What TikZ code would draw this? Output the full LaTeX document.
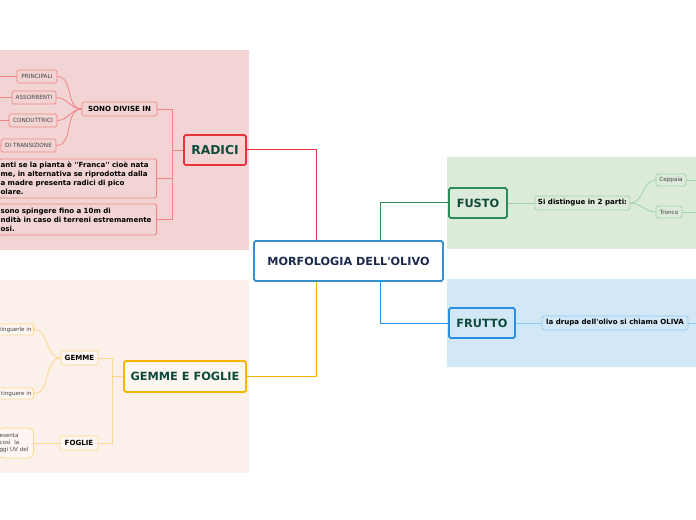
\documentclass[tikz,border=0pt]{standalone}
\usepackage{fontspec}
\setmainfont{DejaVu Sans}[Ligatures=TeXOff]
\definecolor{radbg}{HTML}{F2D4D4}
\definecolor{radline}{HTML}{F08585}
\definecolor{radmain}{HTML}{E8333C}
\definecolor{gembg}{HTML}{FCF0EB}
\definecolor{gemline}{HTML}{FDD88A}
\definecolor{gemmain}{HTML}{F7B500}
\definecolor{fusbg}{HTML}{DCEBD9}
\definecolor{fusline}{HTML}{9ED3A8}
\definecolor{fusmain}{HTML}{2E8B57}
\definecolor{frubg}{HTML}{D3E8F7}
\definecolor{fruline}{HTML}{8DCBF0}
\definecolor{frumain}{HTML}{2A8FE0}
\definecolor{cenborder}{HTML}{3A8FD0}
\definecolor{centext}{HTML}{1B2B4B}
\definecolor{maintext}{HTML}{0E4A3A}
\definecolor{leaftext}{HTML}{444444}
\begin{document}
\begin{tikzpicture}[x=0.75pt,y=-0.75pt,
  box/.style={draw, rounded corners=1.2pt, inner sep=0pt, align=center},
  mainbox/.style={box, line width=1.4pt, text=maintext, font=\bfseries\fontsize{8.5}{9}\selectfont},
  subbox/.style={box, line width=0.6pt, text=black, font=\bfseries\fontsize{5.3}{6}\selectfont},
  leafbox/.style={box, line width=0.6pt, text=leaftext, font=\fontsize{4.3}{5}\selectfont},
  textbox/.style={box, line width=0.6pt, text=black, align=left, inner xsep=1.5pt, font=\bfseries\fontsize{5.3}{6.75}\selectfont},
  leftleaf/.style={box, line width=0.6pt, text=leaftext, align=left, inner xsep=1.5pt, font=\fontsize{4.2}{5.2}\selectfont},
  conn/.style={line width=0.75pt},
  thin/.style={line width=0.6pt}
]
\useasboundingbox (0,0) rectangle (696,520);
\clip (0,0) rectangle (696,520);
\fill[white] (0,0) rectangle (696,520);
% background regions
\fill[radbg] (0,50) rectangle (249,250);
\fill[gembg] (0,280) rectangle (249,473);
\fill[fusbg] (447,157) rectangle (696,249);
\fill[frubg] (447,279) rectangle (696,367);

% central
\node[box, line width=1.4pt, draw=cenborder, fill=white, text=centext, font=\bfseries\fontsize{8.4}{9}\selectfont,
  minimum width=189*0.75pt, minimum height=40*0.75pt] (cen) at (348.5,261) {MORFOLOGIA DELL'OLIVO};

% main branches
\node[mainbox, draw=radmain, fill=radbg, font=\bfseries\fontsize{9.2}{10}\selectfont, minimum width=62*0.75pt, minimum height=30*0.75pt] (rad) at (215,150) {RADICI};
\node[mainbox, draw=fusmain, fill=fusbg, minimum width=58*0.75pt, minimum height=30*0.75pt] (fus) at (478,203) {FUSTO};
\node[mainbox, draw=gemmain, fill=gembg!60!white, minimum width=122*0.75pt, minimum height=31*0.75pt] (gem) at (185,376.5) {GEMME E FOGLIE};
\node[mainbox, draw=frumain, fill=frubg, minimum width=66*0.75pt, minimum height=30*0.75pt] (fru) at (482,323) {FRUTTO};

\coordinate (cr) at (316,150);
\coordinate (cf) at (380,203);
\coordinate (cg) at (316,376.5);
\coordinate (cu) at (380,323);
\draw[conn, radmain] (cen.north -| cr) -- (cr) -- (rad.east);
\draw[conn, fusmain] (cen.north -| cf) -- (cf) -- (fus.west);
\draw[conn, gemmain] (cen.south -| cg) -- (cg) -- (gem.east);
\draw[conn, frumain] (cen.south -| cu) -- (cu) -- (fru.west);

% RADICI subtree
\node[subbox, draw=radline, fill=radbg, minimum width=75*0.75pt, minimum height=14*0.75pt] (sono) at (119.5,109) {SONO DIVISE IN};
\node[textbox, draw=radline, fill=radbg, anchor=east, text width=154*0.75pt, minimum height=39*0.75pt] (t1) at (157,178.5)
  {anti se la pianta è ''Franca'' cioè nata\\me, in alternativa se riprodotta dalla\\a madre presenta radici di pico\\olare.};
\node[textbox, draw=radline, fill=radbg, anchor=east, text width=154*0.75pt, minimum height=31*0.75pt] (t2) at (157,219.5)
  {sono spingere fino a 10m di\\ndità in caso di terreni estremamente\\osi.};
\coordinate (rj) at (172,150);
\draw[thin, radline] (rad.west) -- (rj);
\draw[thin, radline] (rj) |- (sono.east);
\draw[thin, radline] (rj) |- (t1.east);
\draw[thin, radline] (rj) |- (t2.east);

\node[leafbox, draw=radline, fill=radbg, minimum width=40*0.75pt, minimum height=13*0.75pt] (l1) at (37,76.5) {PRINCIPALI};
\node[leafbox, draw=radline, fill=radbg, minimum width=44*0.75pt, minimum height=13*0.75pt] (l2) at (34,97.5) {ASSORBENTI};
\node[leafbox, draw=radline, fill=radbg, minimum width=48*0.75pt, minimum height=13*0.75pt] (l3) at (33,120.5) {CONDUTTRICI};
\node[leafbox, draw=radline, fill=radbg, minimum width=55*0.75pt, minimum height=13*0.75pt] (l4) at (28.5,145.5) {DI TRANSIZIONE};
\foreach \l in {l1,l2,l3,l4}{
  \draw[thin, radline] (sono.west) to[out=180,in=0] (\l.east);
  \draw[thin, radline] (\l.west) -- ++(-20,0);
}

% GEMME subtree
\node[subbox, draw=gemline, fill=gembg!60!white, minimum width=37*0.75pt, minimum height=14*0.75pt] (gemme) at (79.5,358) {GEMME};
\node[subbox, draw=gemline, fill=gembg!60!white, minimum width=38*0.75pt, minimum height=14*0.75pt] (foglie) at (79,443) {FOGLIE};
\coordinate (gj) at (112,376.5);
\draw[thin, gemline] (gem.west) -- (gj);
\draw[thin, gemline] (gj) |- (gemme.east);
\draw[thin, gemline] (gj) |- (foglie.east);
\node[leftleaf, align=right, draw=gemline, fill=gembg!60!white, anchor=east, text width=44*0.75pt, minimum height=11*0.75pt] (g1) at (34,329.5) {tinguerle in};
\node[leftleaf, align=right, draw=gemline, fill=gembg!60!white, anchor=east, text width=44*0.75pt, minimum height=11*0.75pt] (g2) at (34,393.5) {tinguere in};
\node[leftleaf, draw=gemline, fill=gembg!60!white, rounded corners=4pt, anchor=east, text width=32*0.75pt, minimum height=30*0.75pt] (f1) at (34,443) {esenta\\così\ \ la\\ggi UV del};
\draw[thin, gemline] (gemme.west) to[out=180,in=0] (g1.east);
\draw[thin, gemline] (gemme.west) to[out=180,in=0] (g2.east);
\draw[thin, gemline] (foglie.west) -- (f1.east);

% FUSTO subtree
\node[subbox, draw=fusline, fill=fusbg, minimum width=95*0.75pt, minimum height=14*0.75pt] (sid) at (582.5,203) {Si distingue in 2 parti:};
\node[leafbox, draw=fusline, fill=fusbg, minimum width=30*0.75pt, minimum height=12*0.75pt] (cep) at (671,180) {Ceppaia};
\node[leafbox, draw=fusline, fill=fusbg, minimum width=26*0.75pt, minimum height=12*0.75pt] (tro) at (669,212) {Tronco};
\draw[thin, fusline] (fus.east) -- (sid.west);
\draw[thin, fusline] (sid.east) to[out=0,in=180] (cep.west);
\draw[thin, fusline] (sid.east) to[out=0,in=180] (tro.west);
\draw[thin, fusline] (cep.east) -- ++(20,0);
\draw[thin, fusline] (tro.east) -- ++(20,0);

% FRUTTO subtree
\node[subbox, draw=fruline, fill=frubg, minimum width=146*0.75pt, minimum height=14*0.75pt] (dru) at (615,323) {la drupa dell'olivo si chiama OLIVA};
\draw[thin, fruline] (fru.east) -- (dru.west);
\draw[thin, fruline] (dru.east) -- ++(20,0);
\end{tikzpicture}
\end{document}
